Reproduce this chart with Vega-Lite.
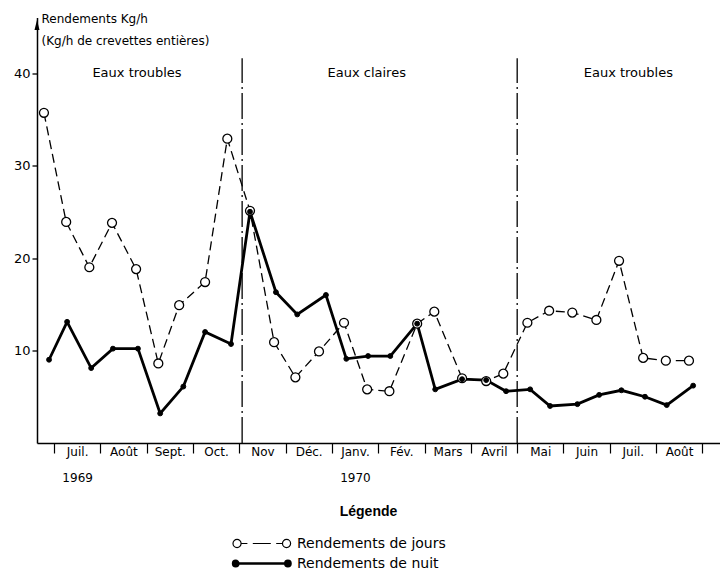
{
  "$schema": "https://vega.github.io/schema/vega-lite/v6.json",
  "width": 683,
  "height": 425.5,
  "autosize": {"type": "none"},
  "padding": {"left": 37, "top": 17.5, "right": 0, "bottom": 130},
  "background": "white",
  "config": {"view": {"stroke": null}, "font": "DejaVu Sans"},
  "datasets": {
    "yields": [
      {"m": -0.22, "v": 35.7, "s": "Rendements de jours"},
      {"m": 0.26, "v": 23.9, "s": "Rendements de jours"},
      {"m": 0.76, "v": 19.0, "s": "Rendements de jours"},
      {"m": 1.25, "v": 23.8, "s": "Rendements de jours"},
      {"m": 1.77, "v": 18.8, "s": "Rendements de jours"},
      {"m": 2.25, "v": 8.6, "s": "Rendements de jours"},
      {"m": 2.70, "v": 14.9, "s": "Rendements de jours"},
      {"m": 3.26, "v": 17.4, "s": "Rendements de jours"},
      {"m": 3.74, "v": 32.9, "s": "Rendements de jours"},
      {"m": 4.23, "v": 25.1, "s": "Rendements de jours"},
      {"m": 4.75, "v": 10.9, "s": "Rendements de jours"},
      {"m": 5.21, "v": 7.1, "s": "Rendements de jours"},
      {"m": 5.72, "v": 9.9, "s": "Rendements de jours"},
      {"m": 6.26, "v": 13.0, "s": "Rendements de jours"},
      {"m": 6.76, "v": 5.8, "s": "Rendements de jours"},
      {"m": 7.24, "v": 5.6, "s": "Rendements de jours"},
      {"m": 7.84, "v": 12.9, "s": "Rendements de jours"},
      {"m": 8.21, "v": 14.2, "s": "Rendements de jours"},
      {"m": 8.81, "v": 7.0, "s": "Rendements de jours"},
      {"m": 9.33, "v": 6.7, "s": "Rendements de jours"},
      {"m": 9.70, "v": 7.5, "s": "Rendements de jours"},
      {"m": 10.22, "v": 13.0, "s": "Rendements de jours"},
      {"m": 10.69, "v": 14.3, "s": "Rendements de jours"},
      {"m": 11.19, "v": 14.1, "s": "Rendements de jours"},
      {"m": 11.71, "v": 13.3, "s": "Rendements de jours"},
      {"m": 12.20, "v": 19.7, "s": "Rendements de jours"},
      {"m": 12.72, "v": 9.2, "s": "Rendements de jours"},
      {"m": 13.21, "v": 8.9, "s": "Rendements de jours"},
      {"m": 13.71, "v": 8.9, "s": "Rendements de jours"},
      {"m": -0.11, "v": 9.0, "s": "Rendements de nuit"},
      {"m": 0.28, "v": 13.1, "s": "Rendements de nuit"},
      {"m": 0.80, "v": 8.1, "s": "Rendements de nuit"},
      {"m": 1.27, "v": 10.2, "s": "Rendements de nuit"},
      {"m": 1.81, "v": 10.2, "s": "Rendements de nuit"},
      {"m": 2.29, "v": 3.2, "s": "Rendements de nuit"},
      {"m": 2.79, "v": 6.1, "s": "Rendements de nuit"},
      {"m": 3.26, "v": 12.0, "s": "Rendements de nuit"},
      {"m": 3.82, "v": 10.7, "s": "Rendements de nuit"},
      {"m": 4.23, "v": 25.0, "s": "Rendements de nuit"},
      {"m": 4.79, "v": 16.3, "s": "Rendements de nuit"},
      {"m": 5.25, "v": 13.9, "s": "Rendements de nuit"},
      {"m": 5.87, "v": 16.0, "s": "Rendements de nuit"},
      {"m": 6.31, "v": 9.1, "s": "Rendements de nuit"},
      {"m": 6.78, "v": 9.4, "s": "Rendements de nuit"},
      {"m": 7.26, "v": 9.4, "s": "Rendements de nuit"},
      {"m": 7.84, "v": 12.9, "s": "Rendements de nuit"},
      {"m": 8.23, "v": 5.8, "s": "Rendements de nuit"},
      {"m": 8.81, "v": 6.9, "s": "Rendements de nuit"},
      {"m": 9.33, "v": 6.8, "s": "Rendements de nuit"},
      {"m": 9.76, "v": 5.6, "s": "Rendements de nuit"},
      {"m": 10.28, "v": 5.8, "s": "Rendements de nuit"},
      {"m": 10.71, "v": 4.0, "s": "Rendements de nuit"},
      {"m": 11.30, "v": 4.2, "s": "Rendements de nuit"},
      {"m": 11.77, "v": 5.2, "s": "Rendements de nuit"},
      {"m": 12.25, "v": 5.7, "s": "Rendements de nuit"},
      {"m": 12.76, "v": 5.0, "s": "Rendements de nuit"},
      {"m": 13.23, "v": 4.1, "s": "Rendements de nuit"},
      {"m": 13.80, "v": 6.2, "s": "Rendements de nuit"}
    ],
    "dividers": [{"m": 4.06}, {"m": 10.0}],
    "zones": [
      {"m": 1.79, "label": "Eaux  troubles"},
      {"m": 6.75, "label": "Eaux  claires"},
      {"m": 12.4, "label": "Eaux  troubles"}
    ]
  },
  "layer": [
    {
      "data": {"name": "yields"},
      "transform": [{"filter": "datum.s === 'Rendements de jours'"}],
      "mark": {"type": "line", "color": "black", "strokeWidth": 1.3, "strokeDash": [9, 5]},
      "encoding": {
        "x": {
          "field": "m", "type": "quantitative",
          "scale": {"domain": [-0.37, 14.38], "nice": false, "zero": false},
          "axis": {
            "title": "Légende",
            "titleX": 331, "titleY": 61, "titleAlign": "center", "titleBaseline": "top",
            "titleFont": "Liberation Sans", "titleFontSize": 14, "titleFontWeight": "bold", "titleColor": "black",
            "values": [0, 1, 2, 3, 4, 5, 6, 7, 8, 9, 10, 11, 12, 13, 14],
            "labelExpr": "[['Juil.','1969'],'Août','Sept.','Oct.','Nov','Déc.',['Janv.','1970'],'Fév.','Mars','Avril','Mai','Juin','Juil.','Août',''][datum.value]",
            "tickSize": 10, "tickColor": "black", "tickWidth": 1.2,
            "domainColor": "black", "domainWidth": 1.5,
            "labelOffset": 23, "labelPadding": -7, "labelBaseline": "top", "labelAlign": "center",
            "labelFontSize": 12, "labelFont": "DejaVu Sans", "labelColor": "black", "labelLineHeight": 26,
            "labelFlush": false, "labelOverlap": false, "labelBound": false, "grid": false
          }
        },
        "y": {
          "field": "v", "type": "quantitative",
          "scale": {"domain": [0, 46], "nice": false},
          "axis": {
            "values": [10, 20, 30, 40],
            "tickSize": 5, "tickColor": "black", "tickWidth": 1.3,
            "domainColor": "black", "domainWidth": 1.5,
            "labelFontSize": 13, "labelFont": "DejaVu Sans", "labelColor": "black", "labelPadding": 2,
            "grid": false,
            "title": ["Rendements  Kg/h", "(Kg/h de crevettes entières)"],
            "titleAngle": 0, "titleAlign": "left", "titleBaseline": "top",
            "titleX": 4, "titleY": -4, "titleFontSize": 12, "titleFontWeight": "normal",
            "titleLineHeight": 22, "titleColor": "black", "titleFont": "DejaVu Sans"
          }
        }
      }
    },
    {
      "data": {"name": "yields"},
      "transform": [{"filter": "datum.s === 'Rendements de nuit'"}],
      "mark": {"type": "line", "color": "black", "strokeWidth": 2.8},
      "encoding": {
        "x": {"field": "m", "type": "quantitative"},
        "y": {"field": "v", "type": "quantitative"}
      }
    },
    {
      "data": {"name": "dividers"},
      "mark": {"type": "rule", "color": "black", "strokeWidth": 1.3, "strokeDash": [26, 4, 2, 4]},
      "encoding": {
        "x": {"field": "m", "type": "quantitative"},
        "y": {"datum": 0, "type": "quantitative"},
        "y2": {"datum": 41.6}
      }
    },
    {
      "data": {"name": "zones"},
      "mark": {"type": "text", "fontSize": 13, "font": "DejaVu Sans", "color": "black", "baseline": "middle"},
      "encoding": {
        "x": {"field": "m", "type": "quantitative"},
        "y": {"datum": 40, "type": "quantitative"},
        "text": {"field": "label"}
      }
    },
    {
      "data": {"values": [{}]},
      "mark": {"type": "point", "shape": "M -0.5 1 L 0 -1 L 0.5 1 Z", "size": 100, "filled": true, "color": "black", "opacity": 1},
      "encoding": {
        "x": {"datum": -0.37, "type": "quantitative"},
        "y": {"datum": 45.2, "type": "quantitative"}
      }
    },
    {
      "data": {"name": "yields"},
      "transform": [{"filter": "datum.s === 'Rendements de jours'"}],
      "mark": {"type": "point", "shape": "circle", "size": 80, "filled": true, "stroke": "black", "strokeWidth": 1.3, "opacity": 1},
      "encoding": {
        "x": {"field": "m", "type": "quantitative"},
        "y": {"field": "v", "type": "quantitative"},
        "fill": {
          "field": "s", "type": "nominal",
          "scale": {"domain": ["Rendements de jours", "Rendements de nuit"], "range": ["white", "black"]},
          "legend": {
            "title": null, "orient": "none", "legendX": 198, "legendY": 519, "direction": "vertical",
            "labelFont": "DejaVu Sans", "labelFontSize": 14, "labelColor": "black", "labelOffset": 48,
            "symbolSize": 324, "rowPadding": 5,
            "symbolType": {"expr": "datum.value === 'Rendements de jours' ? 'M -1 0 A 0.45 0.45 0 1 1 -0.1 0 A 0.45 0.45 0 1 1 -1 0 Z M -0.1 0 L 0.6 0 M 1.2 0 L 3.2 0 M 3.8 0 L 4.5 0 M 4.5 0 A 0.45 0.45 0 1 1 5.4 0 A 0.45 0.45 0 1 1 4.5 0 Z' : 'M -1 0 A 0.3 0.3 0 1 1 -0.4 0 A 0.3 0.3 0 1 1 -1 0 Z M -0.4 0 L 4.8 0 M 4.8 0 A 0.3 0.3 0 1 1 5.4 0 A 0.3 0.3 0 1 1 4.8 0 Z'"},
            "symbolStrokeColor": "black",
            "symbolStrokeWidth": {"expr": "datum.value === 'Rendements de jours' ? 1.2 : 2.4"},
            "symbolOpacity": 1
          }
        }
      }
    },
    {
      "data": {"name": "yields"},
      "transform": [{"filter": "datum.s === 'Rendements de nuit'"}],
      "mark": {"type": "point", "shape": "circle", "size": 24, "filled": true, "fill": "black", "stroke": "black", "strokeWidth": 1, "opacity": 1},
      "encoding": {
        "x": {"field": "m", "type": "quantitative"},
        "y": {"field": "v", "type": "quantitative"}
      }
    }
  ]
}
